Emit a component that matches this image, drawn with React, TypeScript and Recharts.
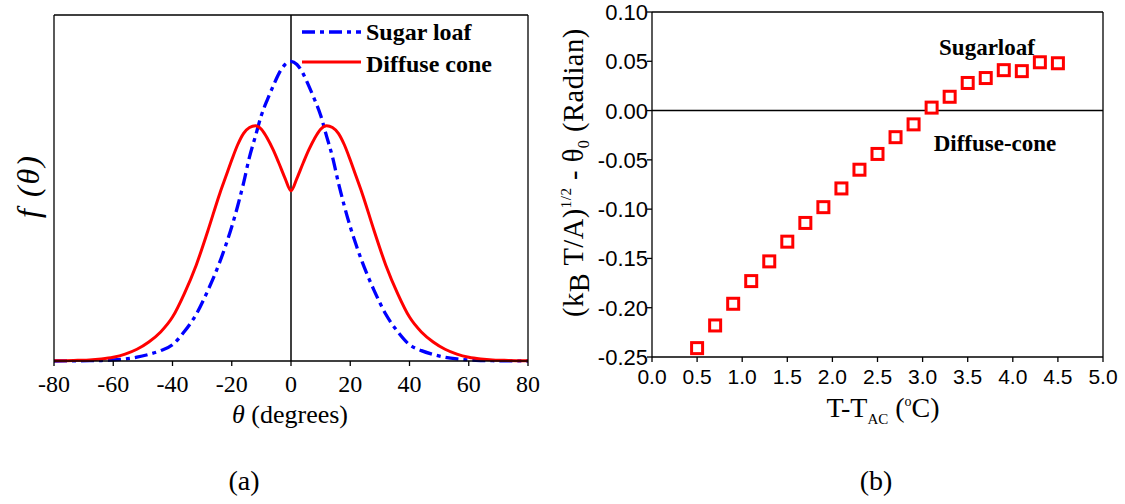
import React from 'react';
import {
  LineChart,
  Line,
  ScatterChart,
  Scatter,
  XAxis,
  YAxis,
  ReferenceLine,
  Legend,
} from 'recharts';

// panel (a): orientation distribution f(theta)
const thetaDeg = [
  -80, -76, -72, -68, -64, -60, -56, -52, -48, -44, -40, -36, -32, -28, -24, -22, -20, -18, -16, -14,
  -12, -10, -8, -6, -4, -2, 0, 2, 4, 6, 8, 10, 12, 14, 16, 18, 20, 22, 24, 28, 32, 36, 40, 44, 48, 52,
  56, 60, 64, 68, 72, 76, 80,
];
const sugarLoaf = [
  0, 0.0002, 0.0004, 0.0008, 0.0015, 0.003, 0.006, 0.011, 0.019, 0.03, 0.047, 0.085, 0.135, 0.205,
  0.287, 0.335, 0.388, 0.448, 0.515, 0.59, 0.65, 0.71, 0.755, 0.795, 0.832, 0.857, 0.866, 0.857, 0.832,
  0.795, 0.755, 0.71, 0.65, 0.59, 0.515, 0.448, 0.388, 0.335, 0.287, 0.205, 0.135, 0.085, 0.047, 0.03,
  0.019, 0.011, 0.006, 0.003, 0.0015, 0.0008, 0.0004, 0.0002, 0,
];
const diffuseCone = [
  0.0005, 0.001, 0.002, 0.003, 0.006, 0.011, 0.02, 0.034, 0.055, 0.084, 0.127, 0.195, 0.277, 0.378,
  0.485, 0.533, 0.581, 0.625, 0.658, 0.675, 0.68, 0.67, 0.644, 0.61, 0.57, 0.528, 0.492, 0.528, 0.57,
  0.61, 0.644, 0.67, 0.68, 0.675, 0.658, 0.625, 0.581, 0.533, 0.485, 0.378, 0.277, 0.195, 0.127, 0.084,
  0.055, 0.034, 0.02, 0.011, 0.006, 0.003, 0.002, 0.001, 0.0005,
];
const thetaMajor = [-80, -60, -40, -20, 0, 20, 40, 60, 80];
const thetaMinor = [-70, -50, -30, -10, 10, 30, 50, 70];
const thetaAll = [-80, -70, -60, -50, -40, -30, -20, -10, 0, 10, 20, 30, 40, 50, 60, 70, 80];
const fTicks = [
  0.069, 0.138, 0.207, 0.276, 0.345, 0.414, 0.483, 0.552, 0.621, 0.69, 0.759, 0.828, 0.897, 0.966,
];

// panel (b): order parameter vs T - T_AC
const dT = [0.5, 0.7, 0.9, 1.1, 1.3, 1.5, 1.7, 1.9, 2.1, 2.3, 2.5, 2.7, 2.9, 3.1, 3.3, 3.5, 3.7, 3.9, 4.1, 4.3, 4.5];
const dTheta = [
  -0.241, -0.218, -0.196, -0.173, -0.153, -0.133, -0.114, -0.098, -0.079, -0.06, -0.044, -0.027, -0.014,
  0.003, 0.014, 0.028, 0.033, 0.041, 0.04, 0.049, 0.048,
];
const dTMajor = [0, 0.5, 1, 1.5, 2, 2.5, 3, 3.5, 4, 4.5, 5];
const dTMinor = [0.25, 0.75, 1.25, 1.75, 2.25, 2.75, 3.25, 3.75, 4.25, 4.75];
const dTAll = [0, 0.25, 0.5, 0.75, 1, 1.25, 1.5, 1.75, 2, 2.25, 2.5, 2.75, 3, 3.25, 3.5, 3.75, 4, 4.25, 4.5, 4.75, 5];
const yMajor = [-0.25, -0.2, -0.15, -0.1, -0.05, 0, 0.05, 0.1];
const yMinor = [-0.225, -0.175, -0.125, -0.075, -0.025, 0.025, 0.075];
const yLabels = ['-0.25', '-0.20', '-0.15', '-0.10', '-0.05', '0.00', '0.05', '0.10'];

const SERIF = 'Liberation Serif';
const SANS = 'Liberation Sans';
const AX = { stroke: '#000', strokeWidth: 1.3 };

const distData = thetaDeg.map((t, i) => ({ theta: t, sugar: sugarLoaf[i], diffuse: diffuseCone[i] }));
const orderData = dT.map((t, i) => ({ t, v: dTheta[i] }));

const DTTick = (p: any) => (
  <text x={p.x} y={p.y + 20} textAnchor="middle" fontFamily={SANS} fontSize={21} fill="#000">
    {Number(p.payload.value).toFixed(1)}
  </text>
);

const YTick = (p: any) => {
  const idx = yMajor.indexOf(p.payload.value);
  return (
    <text x={p.x + 1} y={p.y + 8} textAnchor="end" fontFamily={SANS} fontSize={22} fill="#000">
      {idx >= 0 ? yLabels[idx] : ''}
    </text>
  );
};

const LegendBox = () => (
  <svg width={230} height={70}>
    <line x1={4} x2={63} y1={16} y2={16} stroke="#0000ff" strokeWidth={3.3} strokeDasharray="13 5 4 5" />
    <text x={68} y={24} fontFamily={SERIF} fontWeight="bold" fontSize={24} fill="#000">
      Sugar loaf
    </text>
    <line x1={4} x2={63} y1={46} y2={46} stroke="#ff0000" strokeWidth={3} />
    <text x={68} y={55.5} fontFamily={SERIF} fontWeight="bold" fontSize={24} fill="#000">
      Diffuse cone
    </text>
  </svg>
);

const Square = (p: any) => (
  <rect x={p.cx - 5.5} y={p.cy - 5.5} width={11} height={11} fill="#fff" stroke="#ff0000" strokeWidth={3} />
);

function DistPanel() {
  return (
    <LineChart width={560} height={504} data={distData} margin={{ top: 15, left: 54, right: 32, bottom: 141 }}>
      <XAxis xAxisId="x" dataKey="theta" type="number" domain={[-80, 80]} ticks={thetaMajor} interval={0}
        height={1} tickSize={5} tickMargin={9} axisLine={AX} tickLine={AX}
        tick={{ fontFamily: SERIF, fontSize: 24, fill: '#000' }} />
      <XAxis xAxisId="xm" dataKey="theta" type="number" domain={[-80, 80]} ticks={thetaMinor} interval={0}
        height={1} tickSize={2} axisLine={false} tickLine={AX} tick={false} />
      <XAxis xAxisId="xt" dataKey="theta" type="number" domain={[-80, 80]} ticks={thetaAll} interval={0}
        orientation="top" mirror height={1} tickSize={3} axisLine={AX} tickLine={AX} tick={false} />
      <YAxis yAxisId="y" type="number" domain={[0, 1]} ticks={fTicks} interval={0} mirror width={1}
        tickSize={3} axisLine={AX} tickLine={AX} tick={false} />
      <YAxis yAxisId="yr" type="number" domain={[0, 1]} ticks={fTicks} interval={0} orientation="right"
        mirror width={1} tickSize={3} axisLine={AX} tickLine={AX} tick={false} />
      <ReferenceLine xAxisId="x" yAxisId="y" x={0} stroke="#000" strokeWidth={1.5} />
      <Line xAxisId="x" yAxisId="y" type="monotone" dataKey="sugar" name="Sugar loaf" stroke="#0000ff"
        strokeWidth={3.3} strokeDasharray="13 5 4 5" dot={false} isAnimationActive={false} />
      <Line xAxisId="x" yAxisId="y" type="monotone" dataKey="diffuse" name="Diffuse cone" stroke="#ff0000"
        strokeWidth={3} dot={false} isAnimationActive={false} />
      <Legend layout="vertical" align="center" verticalAlign="middle" content={LegendBox}
        wrapperStyle={{ position: 'absolute', left: 298, top: 16, width: 230, height: 70 }} />
    </LineChart>
  );
}

function OrderPanel() {
  return (
    <ScatterChart width={565} height={504} margin={{ top: 12, left: 90, right: 22, bottom: 145 }}>
      <XAxis xAxisId="x" dataKey="t" type="number" domain={[0, 5]} ticks={dTMajor} interval={0} height={1}
        tickSize={5} axisLine={AX} tickLine={AX} tick={DTTick} />
      <XAxis xAxisId="xm" dataKey="t" type="number" domain={[0, 5]} ticks={dTMinor} interval={0} height={1}
        tickSize={2} axisLine={false} tickLine={AX} tick={false} />
      <XAxis xAxisId="xt" dataKey="t" type="number" domain={[0, 5]} ticks={dTAll} interval={0}
        orientation="top" mirror height={1} tickSize={5} axisLine={AX} tickLine={AX} tick={false} />
      <YAxis yAxisId="y" dataKey="v" type="number" domain={[-0.25, 0.1]} ticks={yMajor} interval={0} width={1}
        tickSize={5} tickMargin={0} axisLine={AX} tickLine={AX} tick={YTick} />
      <YAxis yAxisId="ym" dataKey="v" type="number" domain={[-0.25, 0.1]} ticks={yMinor} interval={0} width={1}
        tickSize={2} axisLine={false} tickLine={AX} tick={false} />
      <YAxis yAxisId="yr" dataKey="v" type="number" domain={[-0.25, 0.1]} ticks={yMajor} interval={0}
        orientation="right" mirror width={1} tickSize={6} axisLine={AX} tickLine={AX} tick={false} />
      <YAxis yAxisId="yrm" dataKey="v" type="number" domain={[-0.25, 0.1]} ticks={yMinor} interval={0}
        orientation="right" mirror width={1} tickSize={4} axisLine={false} tickLine={AX} tick={false} />
      <ReferenceLine xAxisId="x" yAxisId="y" y={0} stroke="#000" strokeWidth={1.5} />
      <Scatter xAxisId="x" yAxisId="y" data={orderData} shape={Square} isAnimationActive={false} />
    </ScatterChart>
  );
}

export default function App() {
  return (
    <div style={{ position: 'absolute', left: 0, top: 0, width: 1125, height: 504, background: '#fff' }}>
      <div style={{ position: 'absolute', left: 0, top: 0 }}>
        <DistPanel />
      </div>
      <div style={{ position: 'absolute', left: 560, top: 0 }}>
        <OrderPanel />
      </div>
      <svg width={1125} height={504} style={{ position: 'absolute', left: 0, top: 0, pointerEvents: 'none' }}>
        <g fontFamily={SERIF} fill="#000">
          <text x={290} y={423} textAnchor="middle" fontSize={26}>
            <tspan fontStyle="italic">θ</tspan> (degrees)
          </text>
          <text transform="translate(39,186) rotate(-90)" textAnchor="middle" fontSize={32} fontStyle="italic"
            letterSpacing={2}>
            f (θ)
          </text>
          <text x={244} y={490} textAnchor="middle" fontSize={28}>(a)</text>
          <text x={876} y={490} textAnchor="middle" fontSize={28}>(b)</text>
          <text x={883} y={417} textAnchor="middle" fontSize={28}>
            T-T<tspan fontSize={15} dy={7}>AC</tspan>
            <tspan dy={-7}> (</tspan>
            <tspan fontSize={14} dy={-11}>o</tspan>
            <tspan dy={11}>C)</tspan>
          </text>
          <text transform="translate(583,317) rotate(-90)" textAnchor="start" fontSize={28.5} letterSpacing={0.5}>
            (k<tspan dy={6}>B</tspan>
            <tspan dy={-6}> T/A)</tspan>
            <tspan fontSize={15} dy={-12}>1/2</tspan>
            <tspan dy={12}> - θ</tspan>
            <tspan fontSize={16} dy={6}>0</tspan>
            <tspan dy={-6}> (Radian)</tspan>
          </text>
          <text x={987} y={55} textAnchor="middle" fontSize={23} fontWeight="bold">Sugarloaf</text>
          <text x={995} y={151} textAnchor="middle" fontSize={23} fontWeight="bold">Diffuse-cone</text>
        </g>
      </svg>
    </div>
  );
}
